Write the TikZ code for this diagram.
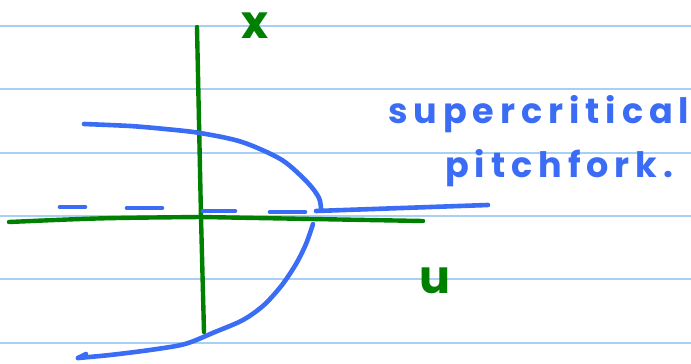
\documentclass[tikz,border=0pt]{standalone}
\usepackage{fontspec}
\newfontfamily\handfont[LetterSpace=17]{Poppins}
\usetikzlibrary{calc,arrows.meta,positioning}
\definecolor{inkGreen}{RGB}{0,128,0}
\definecolor{inkBlue}{RGB}{58,108,245}
\definecolor{ruleBlue}{RGB}{168,208,245}
\tikzset{
  axisline/.style={inkGreen,line width=4.4pt},
  branchline/.style={inkBlue,line width=4.6pt},
  handtext/.style={inkBlue,font=\handfont\bfseries\fontsize{35}{37}\selectfont,inner sep=0pt,anchor=base west}
}

\begin{document}
\begin{tikzpicture}[x=1pt,y=-1pt,line cap=round,line join=round]
  \useasboundingbox (0,0) rectangle (691,364);
  \fill[white] (0,0) rectangle (691,364);
  % ruled paper
  \foreach \yy in {26,89,153,216,279,343}
    \draw[ruleBlue,line width=1.8pt] (0,\yy) -- (691,\yy);
  % axes
  \coordinate (O) at (201,217);
  \coordinate (xtop) at (197,27);
  \coordinate (xbot) at (204,332);
  \coordinate (uleft) at (9,222);
  \coordinate (uright) at (423,221);
  \draw[axisline] (xtop) -- (O) -- (xbot);
  \draw[axisline] (uleft) .. controls (100,218) .. (O) -- (uright);
  \node[inkGreen,font=\handfont\bfseries\fontsize{46}{48}\selectfont,inner sep=0pt,anchor=base] (xlab) at (255,38) {x};
  \node[inkGreen,font=\handfont\bfseries\fontsize{46}{48}\selectfont,inner sep=0pt,anchor=base] (ulab) at (435,293) {u};
  % stable upper branch, then stable zero branch
  \draw[branchline] plot[smooth] coordinates {(84,124) (130,126) (165,129) (200,133) (242,142) (282,160) (308,183) (319,198) (321,209)};
  \coordinate (bif) at (316,211);
  \coordinate (uend) at (488,205);
  \draw[branchline] (bif) -- (uend);
  % unstable zero branch
  \draw[branchline] (60,207) -- (85,207);
  \draw[branchline] (127,208) -- (162,208);
  \draw[branchline] (203,211) -- (235,211);
  \draw[branchline] (270,212) -- (305,212);
  % stable lower branch
  \draw[branchline] plot[smooth] coordinates {(313,224) (306,244) (296,264) (282,285) (264,305) (243,320) (215,332) (185,344) (150,350) (110,355) (78,358)};
  \draw[branchline] (78,358) -- (86,354);
  % label
  \node[handtext] (lab1) at (388,123) {supercritical};
  \node[handtext] (lab2) at (445,177) {pitchfork.};
\end{tikzpicture}
\end{document}
